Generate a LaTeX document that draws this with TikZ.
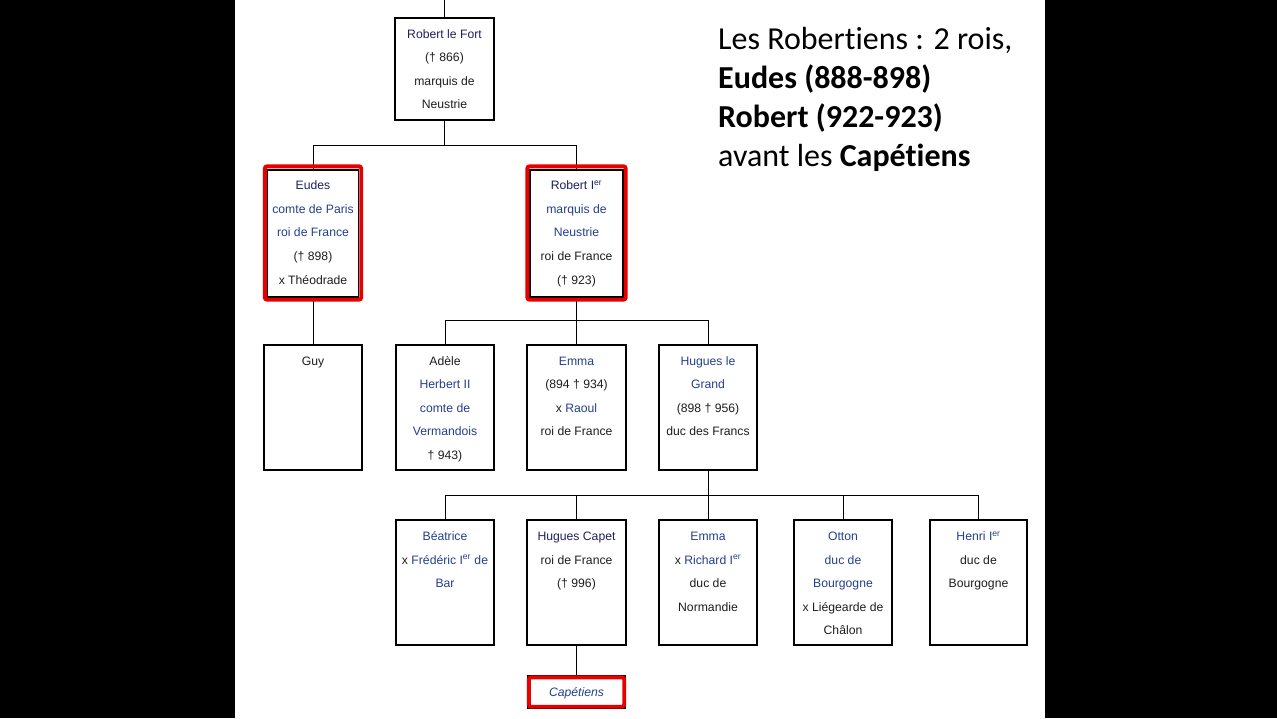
\documentclass[tikz,border=0pt]{standalone}
\usepackage{fontspec}
\setmainfont{Liberation Sans}
\newfontfamily\calfont[Ligatures=NoCommon]{Carlito}
\definecolor{linkblue}{RGB}{36,64,140}
\definecolor{navyname}{RGB}{30,32,96}
\definecolor{txtblack}{RGB}{30,30,30}
\definecolor{hlred}{RGB}{232,0,0}
\newcommand\bl[1]{\textcolor{linkblue}{#1}}
\newcommand\nv[1]{\textcolor{navyname}{#1}}
\newcommand\supx[1]{\textsuperscript{#1}}
\newcommand\cs{\vrule width 0pt height 16.5pt depth 0pt\relax}
\tikzset{
  famcard/.style={draw=black, line width=1.3pt, fill=white, inner sep=0pt, minimum width=97pt, minimum height=125pt},
  smallcard/.style={draw=black, line width=1.3pt, fill=white, inner sep=0pt, minimum width=98pt, minimum height=32pt},
  cardtext/.style={anchor=north, inner sep=0pt, align=center, text=txtblack,
     font=\fontsize{12.2}{23.6}\selectfont},
  redframe/.style={draw=hlred, line width=3.8pt, rounded corners=2pt},
  link/.style={draw=black, line width=1pt},
  slidetext/.style={anchor=base west, inner sep=0pt, font=\calfont\fontsize{32}{39}\selectfont, text=black}
}
\begin{document}
\begin{tikzpicture}[x=1pt,y=-1pt]
\useasboundingbox (0,0) rectangle (1277,718);
\fill[black] (0,0) rectangle (1277,718);
\fill[white] (235,0) rectangle (1045,718);

% generation 0
\node[famcard, minimum width=99pt, minimum height=102pt] (rlf) at (444.5,69) {};
\coordinate (top) at (444.5,0);
% generation 1
\node[famcard, minimum width=91pt, minimum height=127pt] (eudes) at (313,233.5) {};
\node[famcard, minimum width=93pt, minimum height=127pt] (rob) at (576.5,233.5) {};
% generation 2
\node[famcard, minimum width=98pt] (guy) at (313,407.5) {};
\node[famcard, minimum width=98pt] (adele) at (445,407.5) {};
\node[famcard, minimum width=99pt] (emmaa) at (576.5,407.5) {};
\node[famcard, minimum width=98pt] (hlg) at (708,407.5) {};
% generation 3
\node[famcard, minimum width=98pt] (beat) at (445,582.5) {};
\node[famcard, minimum width=99pt] (capet) at (576.5,582.5) {};
\node[famcard, minimum width=98pt] (emmab) at (708,582.5) {};
\node[famcard, minimum width=98pt] (otton) at (843,582.5) {};
\node[famcard, minimum width=97pt] (henri) at (978.5,582.5) {};
% capetiens
\node[smallcard] (capt) at (576.5,692) {};

% connectors
\draw[link] (top) -- (rlf.north);
\draw[link] (rlf.south) -- ++(0,25) coordinate (j1);
\draw[link] (j1) -| (eudes.north);
\draw[link] (j1) -| (rob.north);
\draw[link] (eudes.south) -- (guy.north);
\draw[link] (rob.south) -- (emmaa.north);
\coordinate (j2) at (rob.south |- 0,320);
\draw[link] (j2) -| (adele.north);
\draw[link] (j2) -| (hlg.north);
\draw[link] (hlg.south) -- ++(0,25) coordinate (j3);
\draw[link] (j3) -- (emmab.north);
\draw[link] (j3) -| (beat.north);
\draw[link] (j3) -| (capet.north);
\draw[link] (j3) -| (otton.north);
\draw[link] (j3) -| (henri.north);
\draw[link] (capet.south) -- (capt.north);

% red highlight frames
\draw[redframe] ([shift={(-2pt,3pt)}]eudes.north west) rectangle ([shift={(2pt,-2pt)}]eudes.south east);
\draw[redframe] ([shift={(-2pt,3pt)}]rob.north west) rectangle ([shift={(2pt,-2pt)}]rob.south east);
\draw[redframe] ([shift={(2pt,-2pt)}]capt.north west) rectangle ([shift={(-2pt,2pt)}]capt.south east);

% texts
\node[cardtext] (trlf) at ([yshift=-4pt]rlf.north) {\cs\nv{Robert le Fort}\\(† 866)\\marquis de\\Neustrie};
\node[cardtext] (teudes) at (313,173) {\cs\nv{Eudes}\\\bl{comte de Paris}\\\bl{roi de France}\\(† 898)\\x Théodrade};
\node[cardtext] (trob) at (576.5,173) {\cs\nv{Robert I\supx{er}}\\\bl{marquis de}\\\bl{Neustrie}\\roi de France\\(† 923)};
\node[cardtext] (tguy) at ([yshift=-4pt]guy.north) {\cs Guy};
\node[cardtext] (tadele) at ([yshift=-4pt]adele.north) {\cs Adèle\\\bl{Herbert II}\\\bl{comte de}\\\bl{Vermandois}\\† 943)};
\node[cardtext] (temmaa) at ([yshift=-4pt]emmaa.north) {\cs\bl{Emma}\\(894 † 934)\\x \bl{Raoul}\\roi de France};
\node[cardtext] (thlg) at ([yshift=-4pt]hlg.north) {\cs\bl{Hugues le}\\\bl{Grand}\\(898 † 956)\\duc des Francs};
\node[cardtext] (tbeat) at ([yshift=-4.5pt]beat.north) {\cs\bl{Béatrice}\\x \bl{Frédéric I\supx{er} de}\\\bl{Bar}};
\node[cardtext] (tcapet) at ([yshift=-4.5pt]capet.north) {\cs\nv{Hugues Capet}\\roi de France\\(† 996)};
\node[cardtext] (temmab) at ([yshift=-4.5pt]emmab.north) {\cs\bl{Emma}\\x \bl{Richard I\supx{er}}\\duc de\\Normandie};
\node[cardtext] (totton) at ([yshift=-4.5pt]otton.north) {\cs\bl{Otton}\\\bl{duc de}\\\bl{Bourgogne}\\x Liégearde de\\Châlon};
\node[cardtext] (thenri) at ([yshift=-4.5pt]henri.north) {\cs\bl{Henri I\supx{er}}\\duc de\\Bourgogne};
\node[cardtext, anchor=center] (tcapt) at ([yshift=-1pt]capt.center) {\bl{\itshape Capétiens}};

% slide text
\node[slidetext] (s1) at (718,49.5) {Les Robert\kern0pt iens : 2 rois,};
\node[slidetext] (s2) at (718,88.5) {\bfseries Eudes (888-898)};
\node[slidetext] (s3) at (718,127.5) {\bfseries Robert (922-923)};
\node[slidetext] (s4) at (718,166.5) {avant les \textbf{Capét\kern0pt iens}};
\end{tikzpicture}
\end{document}
